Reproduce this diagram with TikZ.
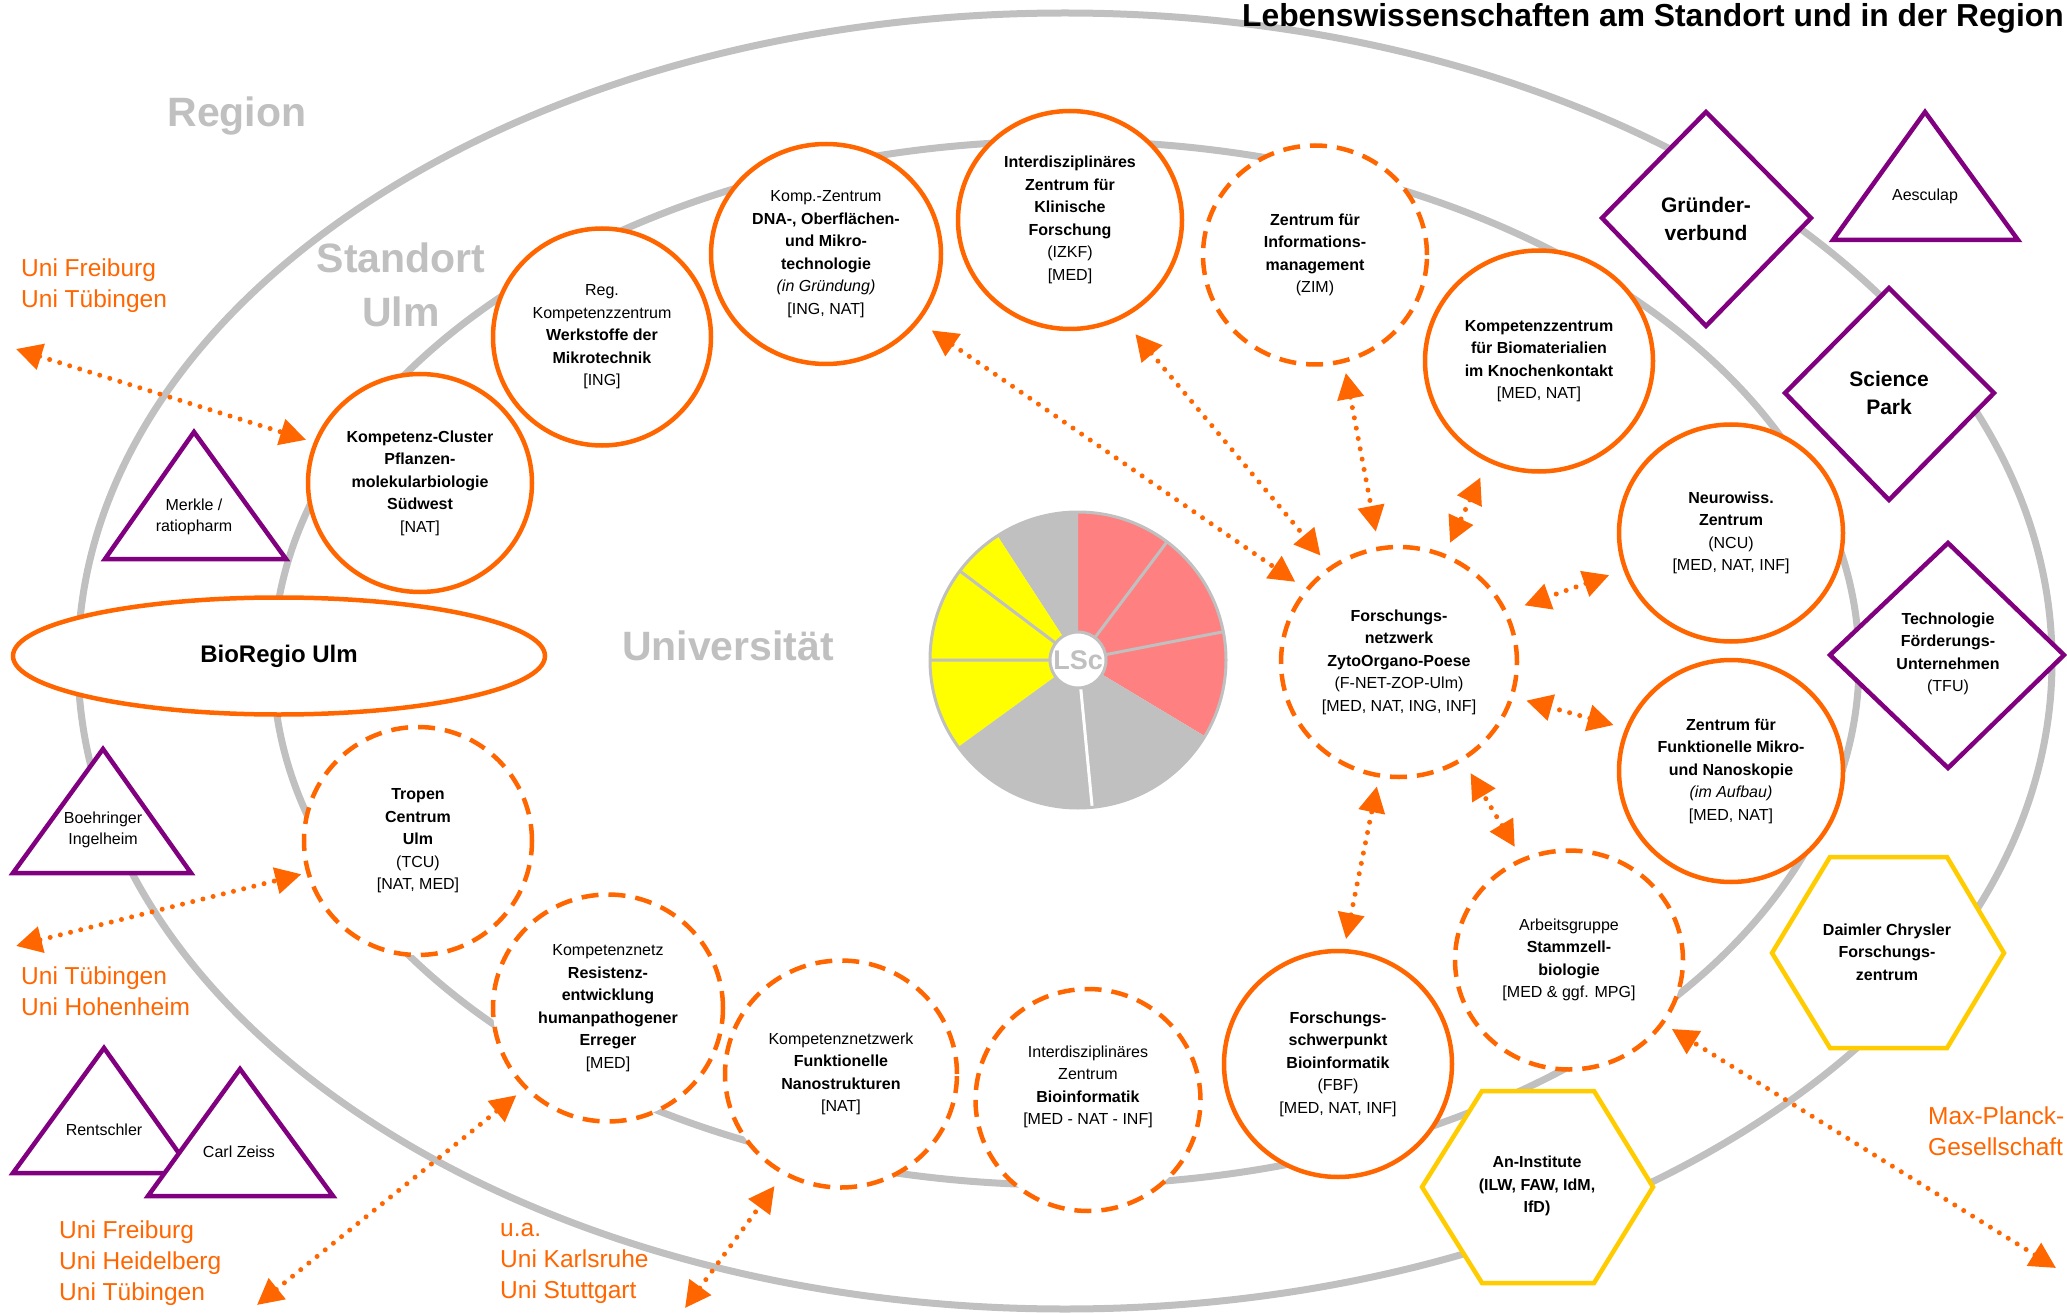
\documentclass[tikz,border=0pt]{standalone}
\usepackage{fontspec}
\setmainfont{Liberation Sans}
\usetikzlibrary{shapes.geometric,arrows.meta}
\definecolor{orgc}{HTML}{FF6600}
\definecolor{purc}{HTML}{800080}
\definecolor{goldc}{HTML}{FFCC00}
\definecolor{grayc}{HTML}{C0C0C0}
\definecolor{pinkc}{HTML}{FF8080}
\definecolor{yelc}{HTML}{FFFF00}
\tikzset{
 ring/.style={draw=grayc, line width=7pt},
 unode/.style={ellipse, draw=orgc, line width=4.5pt, fill=white, inner sep=0pt, align=center, font=\fontsize{16pt}{22.5pt}\selectfont},
 dnode/.style={unode, dash pattern=on 17pt off 10pt},
 pshape/.style={draw=purc, line width=4.5pt, fill=white},
 hshape/.style={draw=goldc, line width=4.5pt, fill=white},
 lbl/.style={inner sep=0pt, align=center, font=\fontsize{16pt}{21pt}\selectfont},
 biglbl/.style={inner sep=0pt, align=center, font=\fontsize{21pt}{28pt}\selectfont\bfseries},
 grlbl/.style={inner sep=0pt, align=center, text=grayc, font=\fontsize{41pt}{54pt}\selectfont\bfseries},
 orlbl/.style={inner sep=0pt, align=left, anchor=west, text=orgc, font=\fontsize{24.5pt}{31pt}\selectfont},
 link/.style={draw=orgc, line width=5pt, dash pattern=on 0pt off 10.5pt, line cap=round,
   {Triangle[length=26pt,width=26pt]}-{Triangle[length=26pt,width=26pt]}},
}
\begin{document}
\begin{tikzpicture}[x=1pt,y=-1pt]
\useasboundingbox (0,0) rectangle (2067,1313);
% rings
\draw[ring] (1065,661) ellipse [x radius=987, y radius=648];
\draw[ring] (1066,663) ellipse [x radius=793, y radius=522];
% gray labels
\node[grlbl] (lregion) at (237,116) {Region};
\node[grlbl] (lstandort) at (401,285) {Standort\\Ulm};
\node[grlbl] (luni) at (728,646) {Universität};
% purple triangles
\draw[pshape] (194,432) -- (286,559) -- (105,559) -- cycle;
\node[lbl] (merkle) at (194,517) {Merkle /\\ratiopharm};
\draw[pshape] (103,749) -- (191,873) -- (13,873) -- cycle;
\node[lbl] (boehr) at (103,830) {Boehringer\\Ingelheim};
\draw[pshape] (104,1048) -- (193,1173) -- (13,1173) -- cycle;
\node[lbl] (rentsch) at (104,1130) {Rentschler};
\draw[pshape] (240,1069) -- (333,1196) -- (148,1196) -- cycle;
\node[lbl] (zeiss) at (239,1152) {Carl Zeiss};
\draw[pshape] (1925,112) -- (2018,240) -- (1833,240) -- cycle;
\node[lbl] (aesc) at (1925,196) {Aesculap};
% diamonds
\draw[pshape] (1706,112) -- (1811,218) -- (1706,326) -- (1602,218) -- cycle;
\node[biglbl] (gruend) at (1706,219) {Gründer-\\verbund};
\draw[pshape] (1889,288) -- (1994,393) -- (1889,500) -- (1785,393) -- cycle;
\node[biglbl] (scipark) at (1889,393) {Science\\Park};
\draw[pshape] (1948,543) -- (2064,655) -- (1948,768) -- (1830,655) -- cycle;
\node[lbl, font=\fontsize{16pt}{22.5pt}\selectfont] (tfu) at (1948,654) {\textbf{Technologie}\\\textbf{Förderungs-}\\\textbf{Unternehmen}\\(TFU)};
% hexagons
\draw[hshape] (1772,953) -- (1830,857) -- (1947,857) -- (2004,953) -- (1947,1048) -- (1830,1048) -- cycle;
\node[lbl, font=\fontsize{16pt}{22.5pt}\selectfont\bfseries] (daimler) at (1887,952) {Daimler Chrysler\\Forschungs-\\zentrum};
\draw[hshape] (1422,1187) -- (1482,1091) -- (1594,1091) -- (1653,1187) -- (1594,1283) -- (1482,1283) -- cycle;
\node[lbl, font=\fontsize{16pt}{22.5pt}\selectfont\bfseries] (aninst) at (1537,1186) {An-Institute\\(ILW, FAW, IdM,\\IfD)};
% orange institutes
\node[unode, minimum width=224pt, minimum height=218pt] (kc) at (420,483) {\textbf{Kompetenz-Cluster}\\\textbf{Pflanzen-}\\\textbf{molekularbiologie}\\\textbf{Südwest}\\{[NAT]}};
\node[unode, minimum width=218pt, minimum height=217pt] (reg) at (602,337) {Reg.\\Kompetenzzentrum\\\textbf{Werkstoffe der}\\\textbf{Mikrotechnik}\\{[ING]}};
\node[unode, minimum width=230pt, minimum height=220pt] (dna) at (826,254) {Komp.-Zentrum\\\textbf{DNA-, Oberflächen-}\\\textbf{und Mikro-}\\\textbf{technologie}\\\textit{(in Gründung)}\\{[ING, NAT]}};
\node[unode, minimum width=224pt, minimum height=218pt] (izkf) at (1070,220) {\textbf{Interdisziplinäres}\\\textbf{Zentrum für}\\\textbf{Klinische}\\\textbf{Forschung}\\(IZKF)\\{[MED]}};
\node[dnode, minimum width=224pt, minimum height=219pt] (zim) at (1315,255) {\textbf{Zentrum für}\\\textbf{Informations-}\\\textbf{management}\\(ZIM)};
\node[unode, minimum width=228pt, minimum height=221pt] (biom) at (1539,361) {\textbf{Kompetenzzentrum}\\\textbf{für Biomaterialien}\\\textbf{im Knochenkontakt}\\{[MED, NAT]}};
\node[unode, minimum width=224pt, minimum height=217pt] (neuro) at (1731,533) {\textbf{Neurowiss.}\\\textbf{Zentrum}\\(NCU)\\{[MED, NAT, INF]}};
\node[dnode, minimum width=236pt, minimum height=230pt] (fn) at (1399,662) {\textbf{Forschungs-}\\\textbf{netzwerk}\\\textbf{ZytoOrgano-Poese}\\(F-NET-ZOP-Ulm)\\{[MED, NAT, ING, INF]}};
\node[unode, minimum width=224pt, minimum height=222pt] (mikro) at (1731,771) {\textbf{Zentrum für}\\\textbf{Funktionelle Mikro-}\\\textbf{und Nanoskopie}\\\textit{(im Aufbau)}\\{[MED, NAT]}};
\node[dnode, minimum width=228pt, minimum height=219pt] (stamm) at (1569,960) {Arbeitsgruppe\\\textbf{Stammzell-}\\\textbf{biologie}\\{[MED \& ggf. MPG]}};
\node[unode, minimum width=228pt, minimum height=226pt] (fbf) at (1338,1064) {\textbf{Forschungs-}\\\textbf{schwerpunkt}\\\textbf{Bioinformatik}\\(FBF)\\{[MED, NAT, INF]}};
\node[dnode, minimum width=225pt, minimum height=222pt] (izb) at (1088,1100) {};
\node[lbl, font=\fontsize{16pt}{22.5pt}\selectfont] (izbt) at (1088,1087) {Interdisziplinäres\\Zentrum\\\textbf{Bioinformatik}\\{[MED - NAT - INF]}};
\node[dnode, minimum width=232pt, minimum height=227pt] (nano) at (841,1074) {Kompetenznetzwerk\\\textbf{Funktionelle}\\\textbf{Nanostrukturen}\\{[NAT]}};
\node[dnode, minimum width=230pt, minimum height=227pt] (resist) at (608,1008) {Kompetenznetz\\\textbf{Resistenz-}\\\textbf{entwicklung}\\\textbf{humanpathogener}\\\textbf{Erreger}\\{[MED]}};
\node[dnode, minimum width=228pt, minimum height=228pt] (tropen) at (418,841) {\textbf{Tropen}\\\textbf{Centrum}\\\textbf{Ulm}\\(TCU)\\{[NAT, MED]}};
\node[unode, minimum width=532pt, minimum height=117pt, font=\fontsize{24pt}{28pt}\selectfont\bfseries] (bioregio) at (279,656) {BioRegio Ulm};
% pie
\begin{scope}[shift={(1078,660)}, yscale=-1]
 \fill[pinkc] (0,0) -- (-31:148) arc[start angle=-31, end angle=90, radius=148] -- cycle;
 \fill[grayc] (0,0) -- (90:148) arc[start angle=90, end angle=123, radius=148] -- cycle;
 \fill[yelc] (0,0) -- (123:148) arc[start angle=123, end angle=216, radius=148] -- cycle;
 \fill[grayc] (0,0) -- (216:148) arc[start angle=216, end angle=329, radius=148] -- cycle;
 \draw[grayc, line width=3pt] (0,0) -- (53:148) (0,0) -- (11:148) (0,0) -- (180:148) (0,0) -- (143:148);
 \draw[white, line width=3pt] (0,0) -- (-84.5:147);
 \draw[grayc, line width=3pt] (0,0) circle[radius=148];
 \node[circle, fill=white, draw=grayc, line width=3pt, minimum size=56pt, inner sep=0pt, text=grayc, font=\fontsize{27pt}{30pt}\selectfont\bfseries] (lsc) at (0,0) {LSc};
\end{scope}
% free ends
\coordinate (fa) at (16,349);
\coordinate (fb) at (16,946);
\coordinate (fc) at (257,1305);
\coordinate (fd) at (685,1308);
\coordinate (fe) at (2056,1268);
% links
\draw[link, shorten >=8pt] (fa) -- (kc.159);
\draw[link, shorten >=5pt] (fb) -- (tropen.196);
\draw[link, shorten >=10pt] (fc) -- (resist.224);
\draw[link, shorten >=14pt] (fd) -- (nano.240);
\draw[link, shorten >=9pt] (fe) -- (stamm.-34);
\draw[link, shorten <=15pt, shorten >=12pt] (dna.-36) -- (fn.142.5);
\draw[link, shorten <=20pt, shorten >=14pt] (izkf.-62) -- (fn.126);
\draw[link, shorten <=10pt, shorten >=15pt] (zim.-75) -- (fn.100);
\draw[link, shorten <=17pt, shorten >=12pt] (biom.-117) -- (fn.67);
\draw[link, shorten <=15pt, shorten >=18pt] (neuro.199) -- (fn.25);
\draw[link, shorten <=12pt, shorten >=13pt] (mikro.158) -- (fn.-17);
\draw[link, shorten <=13pt, shorten >=14pt] (stamm.115) -- (fn.-57);
\draw[link, shorten <=10pt, shorten >=9pt] (fbf.87) -- (fn.-100);
% orange labels
\node[orlbl] (ufr1) at (21,286) {Uni Freiburg\\Uni Tübingen};
\node[orlbl] (utue) at (21,991) {Uni Tübingen\\Uni Hohenheim};
\node[orlbl] (ufr2) at (59,1263) {Uni Freiburg\\Uni Heidelberg\\Uni Tübingen};
\node[orlbl] (uka) at (500,1263) {u.a.\\Uni Karlsruhe\\Uni Stuttgart};
\node[orlbl] (mpg) at (1928,1131) {Max-Planck-\\Gesellschaft};
% title
\node[anchor=base east, inner sep=0pt, font=\fontsize{31.8pt}{36pt}\selectfont\bfseries] (title) at (2064,27) {Lebenswissenschaften am Standort und in der Region};
\end{tikzpicture}
\end{document}
